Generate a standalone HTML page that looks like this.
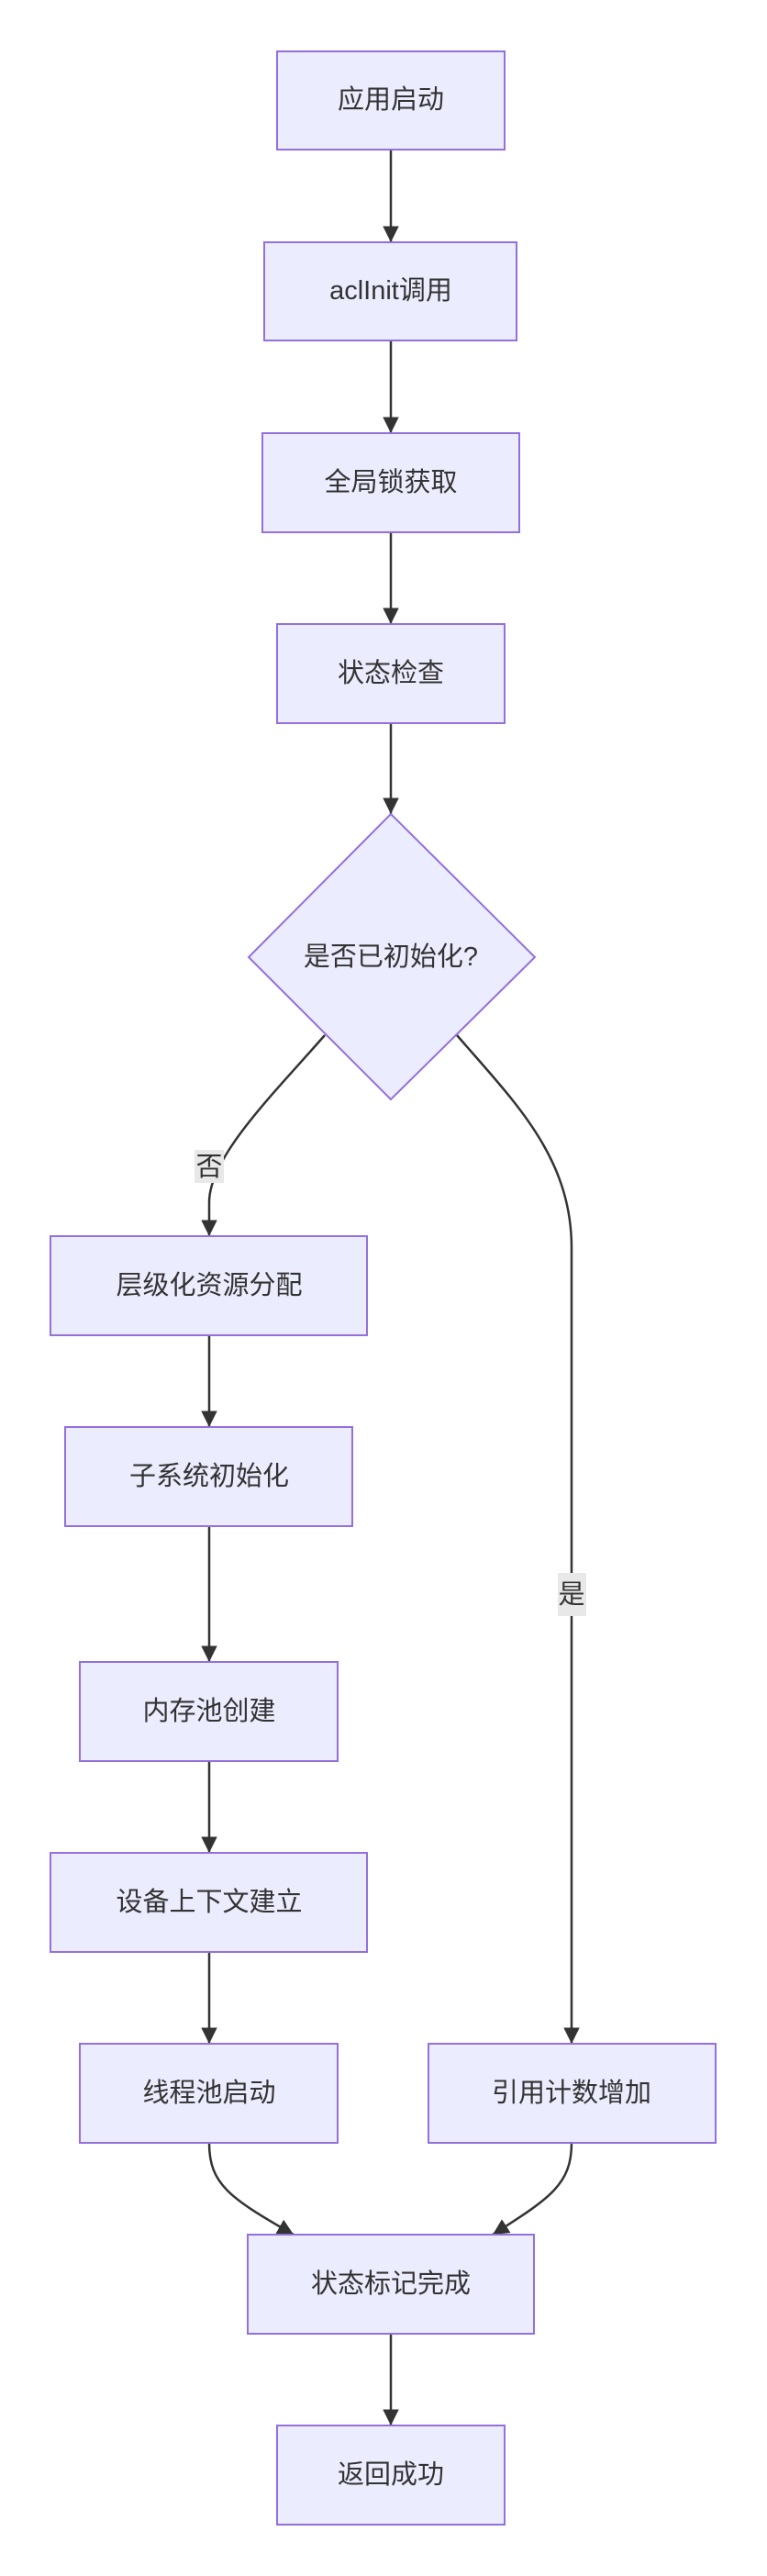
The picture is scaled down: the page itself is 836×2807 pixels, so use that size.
<!DOCTYPE html>
<html><head><meta charset="utf-8"><style>
html,body{margin:0;padding:0;background:#fff;}
svg{display:block;}
text{font-family:"Liberation Sans","Noto Sans CJK SC",sans-serif;font-size:29px;fill:#333;text-anchor:middle;dominant-baseline:central;}
.n{fill:#ECECFF;stroke:#9370DB;stroke-width:2;}
.e{fill:none;stroke:#333;stroke-width:2.5;}
</style></head><body>
<svg width="836" height="2807" viewBox="0 0 836 2807" xmlns="http://www.w3.org/2000/svg">
<defs><marker id="a" viewBox="0 0 10 10" refX="10" refY="5" markerWidth="7" markerHeight="7" markerUnits="strokeWidth" orient="auto"><path d="M0,0L10,5L0,10z" fill="#333"/></marker></defs>
<g class="edges">
<path class="e" d="M426,163V264" marker-end="url(#a)"/>
<path class="e" d="M426,371V472" marker-end="url(#a)"/>
<path class="e" d="M426,580V680" marker-end="url(#a)"/>
<path class="e" d="M426,788V887" marker-end="url(#a)"/>
<path class="e" d="M354,1128C300,1190 228,1260 228,1310V1347" marker-end="url(#a)"/>
<path class="e" d="M498,1128C560,1200 623,1260 623,1360V2227" marker-end="url(#a)"/>
<path class="e" d="M228,2335C228,2380 250,2395 320,2435" marker-end="url(#a)"/>
<path class="e" d="M623,2335C623,2380 600,2395 537,2435" marker-end="url(#a)"/>
<path class="e" d="M426,2543V2643" marker-end="url(#a)"/>
<path class="e" d="M228,1455V1555" marker-end="url(#a)"/>
<path class="e" d="M228,1663V1811" marker-end="url(#a)"/>
<path class="e" d="M228,1919V2019" marker-end="url(#a)"/>
<path class="e" d="M228,2127V2227" marker-end="url(#a)"/>
</g>
<rect x="212" y="1253" width="32" height="36" fill="#e8e8e8"/><text x="228" y="1272">否</text>
<rect x="608" y="1714" width="31" height="47" fill="#e8e8e8"/><text x="623" y="1738">是</text>
<rect class="n" x="302" y="56" width="248" height="107"/><text x="426" y="109">应用启动</text>
<rect class="n" x="288" y="264" width="275" height="107"/><text x="426" y="317">aclInit调用</text>
<rect class="n" x="286" y="472" width="280" height="108"/><text x="426" y="526">全局锁获取</text>
<rect class="n" x="302" y="680" width="248" height="108"/><text x="426" y="734">状态检查</text>
<polygon class="n" points="426,887 583,1043 426,1198 271,1043"/><text x="426" y="1043">是否已初始化?</text>
<rect class="n" x="55" y="1347" width="345" height="108"/><text x="228" y="1401">层级化资源分配</text>
<rect class="n" x="71" y="1555" width="313" height="108"/><text x="228" y="1609">子系统初始化</text>
<rect class="n" x="87" y="1811" width="281" height="108"/><text x="228" y="1865">内存池创建</text>
<rect class="n" x="55" y="2019" width="345" height="108"/><text x="228" y="2073">设备上下文建立</text>
<rect class="n" x="87" y="2227" width="281" height="108"/><text x="228" y="2281">线程池启动</text>
<rect class="n" x="467" y="2227" width="313" height="108"/><text x="623" y="2281">引用计数增加</text>
<rect class="n" x="270" y="2435" width="312" height="108"/><text x="426" y="2489">状态标记完成</text>
<rect class="n" x="302" y="2643" width="248" height="108"/><text x="426" y="2697">返回成功</text>
</svg>
</body></html>
